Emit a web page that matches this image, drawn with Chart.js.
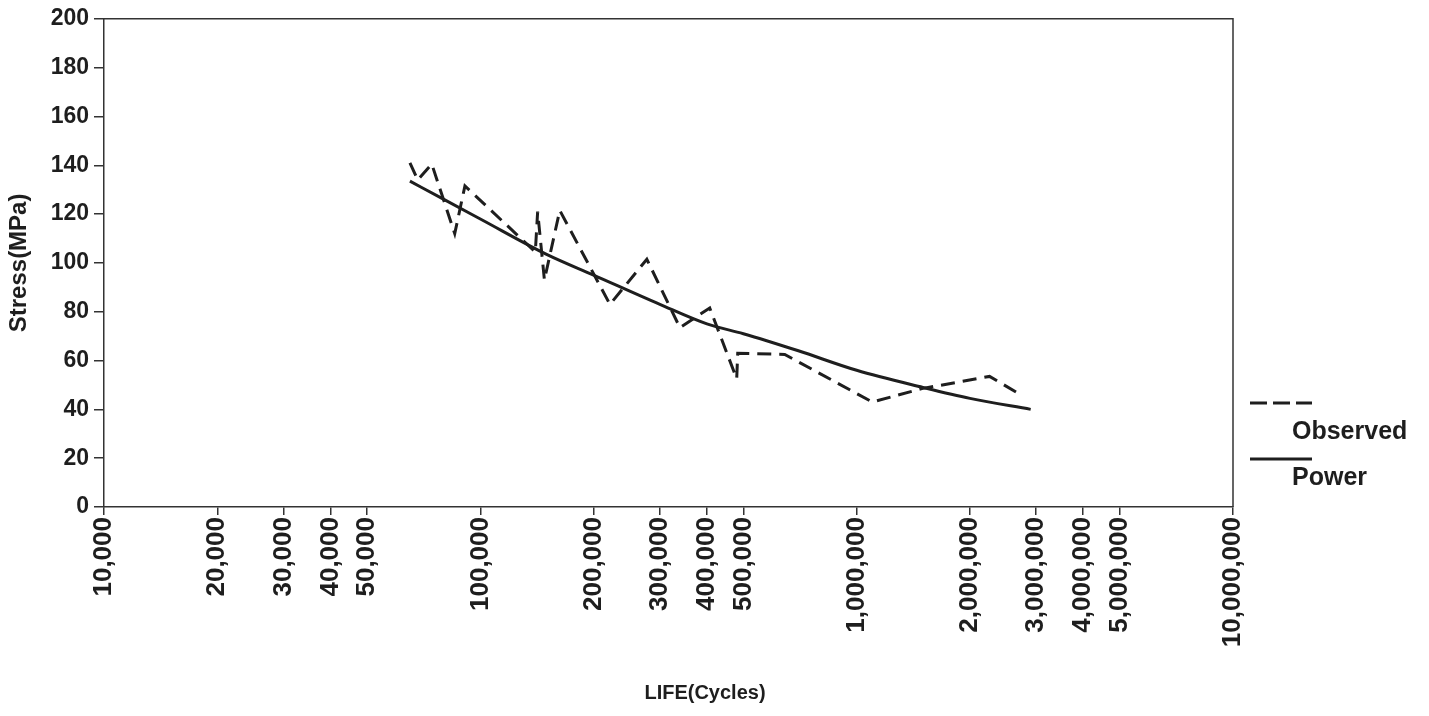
<!DOCTYPE html>
<html>
<head>
<meta charset="utf-8">
<title>Stress vs Life</title>
<script src="https://cdn.jsdelivr.net/npm/chart.js@4.4.0/dist/chart.umd.min.js"></script>
<style>
    html, body { margin: 0; padding: 0; background: #fff; }
    #wrap { width: 1429px; height: 716px; }
</style>
</head>
<body>
<div id="wrap"><canvas id="myChart"></canvas></div>
<script>
// Datos (vida en ciclos, esfuerzo en MPa)
const obsLife = [65000, 68200, 74300, 85500, 91000, 140000, 142000, 148000, 162600, 221000,
                 277000, 339000, 407000, 480000, 483000, 644000, 1100000, 1490000, 2255000, 2760000];
const obsStress = [141, 134, 140.5, 112, 131.5, 104.5, 121, 93, 121.5, 83,
                   101.5, 73.5, 81.5, 52.5, 63, 62.5, 43, 48.5, 53.5, 45.5];

const powLife = [65000, 80000, 100000, 150000, 200000, 300000, 400000, 500000,
                 700000, 1000000, 1500000, 2000000, 2900000];
const powStress = [133.5, 126, 118, 103.5, 95, 83, 75, 71, 64, 56, 49, 44.5, 40];

const lifeTicks = [10000, 20000, 30000, 40000, 50000, 100000, 200000, 300000, 400000, 500000,
                   1000000, 2000000, 3000000, 4000000, 5000000, 10000000];
const stressTicks = [0, 20, 40, 60, 80, 100, 120, 140, 160, 180, 200];

const ink = '#1e1e1e';
const fontFamily = 'Arial, "Liberation Sans", sans-serif';

const toPoints = (xs, ys) => xs.map((x, i) => ({ x: x, y: ys[i] }));

// Marco, título del eje X y leyenda dibujados a mano
const extras = {
    id: 'extras',
    afterDraw(chart) {
        const { ctx, chartArea } = chart;
        ctx.save();
        ctx.strokeStyle = '#333';
        ctx.lineWidth = 1.5;
        ctx.beginPath();
        ctx.moveTo(chartArea.left, chartArea.top);
        ctx.lineTo(chartArea.right, chartArea.top);
        ctx.lineTo(chartArea.right, chartArea.bottom);
        ctx.stroke();

        ctx.fillStyle = ink;
        ctx.font = 'bold 20px ' + fontFamily;
        ctx.textAlign = 'center';
        ctx.textBaseline = 'middle';
        ctx.fillText('LIFE(Cycles)', 705, 693);

        // Leyenda
        const ds = chart.data.datasets;
        const rows = [{ line: 403, text: 432 }, { line: 459, text: 478 }];
        ctx.font = 'bold 25px ' + fontFamily;
        ctx.textAlign = 'left';
        ds.forEach((d, i) => {
            ctx.strokeStyle = d.borderColor;
            ctx.lineWidth = 3;
            ctx.setLineDash(d.borderDash ? [17, 6] : []);
            ctx.beginPath();
            ctx.moveTo(1250, rows[i].line);
            ctx.lineTo(1312, rows[i].line);
            ctx.stroke();
            ctx.setLineDash([]);
            ctx.fillText(d.label, 1292, rows[i].text);
        });
        ctx.restore();
    }
};

const ctx = document.getElementById('myChart').getContext('2d');
const myChart = new Chart(ctx, {
    type: 'line',
    data: {
        datasets: [{
            label: 'Observed',
            data: toPoints(obsLife, obsStress),
            borderColor: ink,
            borderWidth: 3,
            borderDash: [14, 8],
            pointRadius: 0,
            tension: 0
        }, {
            label: 'Power',
            data: toPoints(powLife, powStress),
            borderColor: ink,
            borderWidth: 3,
            pointRadius: 0,
            cubicInterpolationMode: 'monotone'
        }]
    },
    options: {
        responsive: true,
        maintainAspectRatio: false,
        animation: false,
        layout: { padding: { top: 15, right: 196, left: 0, bottom: 0 } },
        plugins: {
            legend: { display: false },
            tooltip: { enabled: false }
        },
        scales: {
            x: {
                type: 'logarithmic',
                min: 10000,
                max: 10000000,
                afterBuildTicks: (axis) => { axis.ticks = lifeTicks.map(v => ({ value: v })); },
                afterFit: (axis) => { axis.height = 209; },
                grid: { drawOnChartArea: false, drawTicks: true, tickLength: 8, color: '#333', lineWidth: 1.5 },
                border: { color: '#333', width: 1.5 },
                ticks: {
                    autoSkip: false,
                    maxRotation: 90,
                    minRotation: 90,
                    padding: 2,
                    color: ink,
                    font: { family: fontFamily, size: 26, weight: 'bold' },
                    callback: (value) => Number(value).toLocaleString('en-US')
                }
            },
            y: {
                min: 0,
                max: 200,
                afterBuildTicks: (axis) => { axis.ticks = stressTicks.map(v => ({ value: v })); },
                afterFit: (axis) => { axis.width = 104; },
                grid: { drawOnChartArea: false, drawTicks: true, tickLength: 10, color: '#333', lineWidth: 1.5 },
                border: { color: '#333', width: 1.5 },
                title: {
                    display: true,
                    text: 'Stress(MPa)',
                    color: ink,
                    padding: { top: 5, bottom: 0 },
                    font: { family: fontFamily, size: 24, weight: 'bold' }
                },
                ticks: {
                    padding: 5,
                    color: ink,
                    font: { family: fontFamily, size: 23, weight: 'bold' }
                }
            }
        }
    },
    plugins: [extras]
});
</script>
</body>
</html>
